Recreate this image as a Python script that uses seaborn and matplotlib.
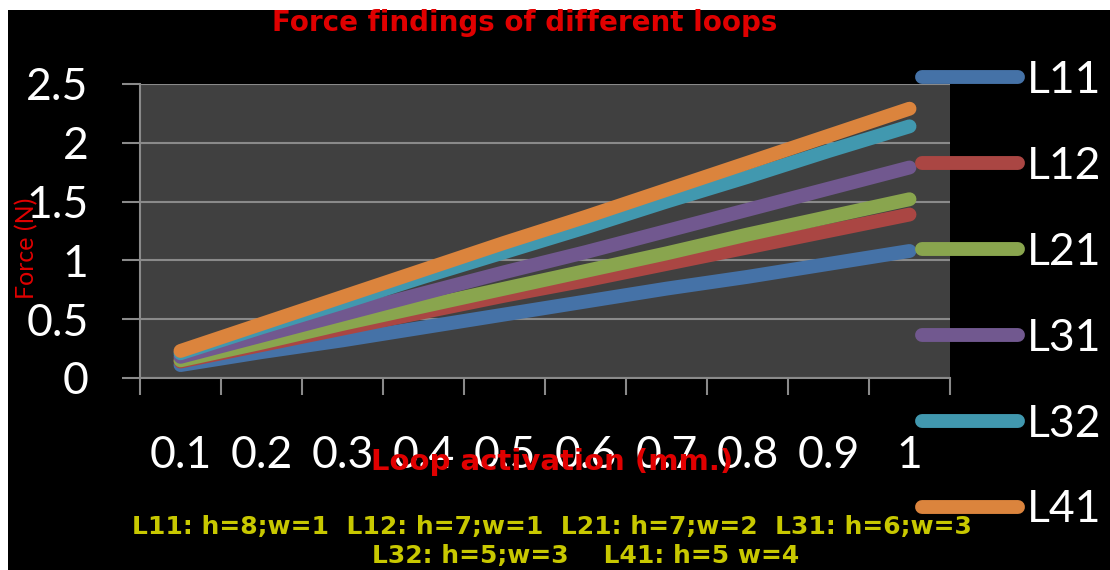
import matplotlib
matplotlib.use("Agg")
import matplotlib.pyplot as plt
from matplotlib.patches import Rectangle
import seaborn as sns
import numpy as np
import pandas as pd

# Valores (forca em N por ativacao do loop em mm)
activation = ["0.1", "0.2", "0.3", "0.4", "0.5", "0.6", "0.7", "0.8", "0.9", "1"]
L11 = [0.11, 0.22, 0.32, 0.43, 0.54, 0.65, 0.76, 0.86, 0.97, 1.08]
L12 = [0.14, 0.28, 0.42, 0.56, 0.70, 0.83, 0.97, 1.11, 1.25, 1.39]
L21 = [0.15, 0.30, 0.46, 0.61, 0.76, 0.91, 1.06, 1.22, 1.37, 1.52]
L31 = [0.18, 0.36, 0.54, 0.72, 0.90, 1.07, 1.25, 1.43, 1.61, 1.79]
L32 = [0.21, 0.43, 0.64, 0.86, 1.07, 1.28, 1.50, 1.71, 1.93, 2.14]
L41 = [0.23, 0.46, 0.69, 0.92, 1.15, 1.37, 1.60, 1.83, 2.06, 2.29]
loop_names = ["L11", "L12", "L21", "L31", "L32", "L41"]
y_ticks = [0, 0.5, 1, 1.5, 2, 2.5]
y_tick_labels = ["0", "0.5", "1", "1.5", "2", "2.5"]
palette = ["#4572A7", "#AA4643", "#89A54E", "#71588F", "#4198AF", "#DB843D"]

series = [L11, L12, L21, L31, L32, L41]
df = pd.DataFrame({
    "activation": activation * len(series),
    "force": [v for s in series for v in s],
    "loop": [n for n in loop_names for _ in activation],
})

sns.set_style("dark")
plt.rcParams["font.family"] = ["Lato", "DejaVu Sans"]
grid_color = "#8a8a8a"

fig = plt.figure(figsize=(11.1, 5.7), dpi=100, facecolor="white")
fig.add_artist(Rectangle((8 / 1110, 0), 1, 560 / 570, transform=fig.transFigure,
                         facecolor="black", edgecolor="none", zorder=-10))

ax = fig.add_axes([140 / 1110, 192 / 570, 810 / 1110, 294 / 570])
ax.set_facecolor("#404040")
sns.lineplot(data=df, x="activation", y="force", hue="loop", palette=palette,
             linewidth=10, solid_capstyle="round", sort=False, legend=False, ax=ax)

ax.set_xlim(-0.5, 9.5)
ax.set_ylim(0, 2.5)
ax.set_xticks(range(len(activation)))
ax.set_xticklabels(activation)
ax.set_xticks(np.arange(-0.5, len(activation), 1), minor=True)
ax.set_yticks(y_ticks)
ax.set_yticklabels(y_tick_labels)
ax.tick_params(axis="x", which="major", bottom=True, length=0, pad=41,
               labelsize=32, labelcolor="white")
ax.tick_params(axis="x", which="minor", bottom=True, length=12, width=1.5,
               color=grid_color, direction="out")
ax.tick_params(axis="y", which="major", left=True, length=13, width=1.5,
               color=grid_color, direction="out", pad=24, labelsize=32, labelcolor="white")
ax.grid(axis="y", color=grid_color, linewidth=1.5)
ax.grid(axis="x", visible=False)
ax.set_axisbelow(True)
for side in ["top", "right"]:
    ax.spines[side].set_visible(False)
for side in ["left", "bottom"]:
    ax.spines[side].set_visible(True)
    ax.spines[side].set_color(grid_color)
    ax.spines[side].set_linewidth(1.5)
ax.set_xlabel("")
ax.set_ylabel("")

# legenda a direita, por cima da area do grafico
leg = ax.legend(ax.get_lines()[:len(loop_names)], loop_names, loc="upper left",
                bbox_to_anchor=(922 / 1110, 1 - 60 / 570), bbox_transform=fig.transFigure,
                frameon=False, fontsize=32, labelcolor="white", handlelength=2.15,
                handletextpad=0.22, labelspacing=1.01, borderpad=0, borderaxespad=0)
leg.set_zorder(5)

fig.text(525 / 1110, 1 - 23 / 570, "Force findings of different loops", color="#e00000",
         fontsize=20, fontweight="bold", family="DejaVu Sans", ha="center", va="center")
fig.text(552 / 1110, 1 - 462 / 570, "Loop activation (mm.)", color="#e00000",
         fontsize=21, fontweight="bold", family="DejaVu Sans", ha="center", va="center")
fig.text(27 / 1110, 1 - 248 / 570, "Force (N)", color="#e00000", fontsize=18,
         rotation=90, ha="center", va="center")
fig.text(552 / 1110, 1 - 527 / 570, "L11: h=8;w=1  L12: h=7;w=1  L21: h=7;w=2  L31: h=6;w=3",
         color="#c8c800", fontsize=18, fontweight="bold", family="DejaVu Sans",
         ha="center", va="center")
fig.text(586 / 1110, 1 - 556 / 570, "L32: h=5;w=3    L41: h=5 w=4",
         color="#c8c800", fontsize=18, fontweight="bold", family="DejaVu Sans",
         ha="center", va="center")

fig.savefig("out.png", dpi=100, facecolor=fig.get_facecolor())
